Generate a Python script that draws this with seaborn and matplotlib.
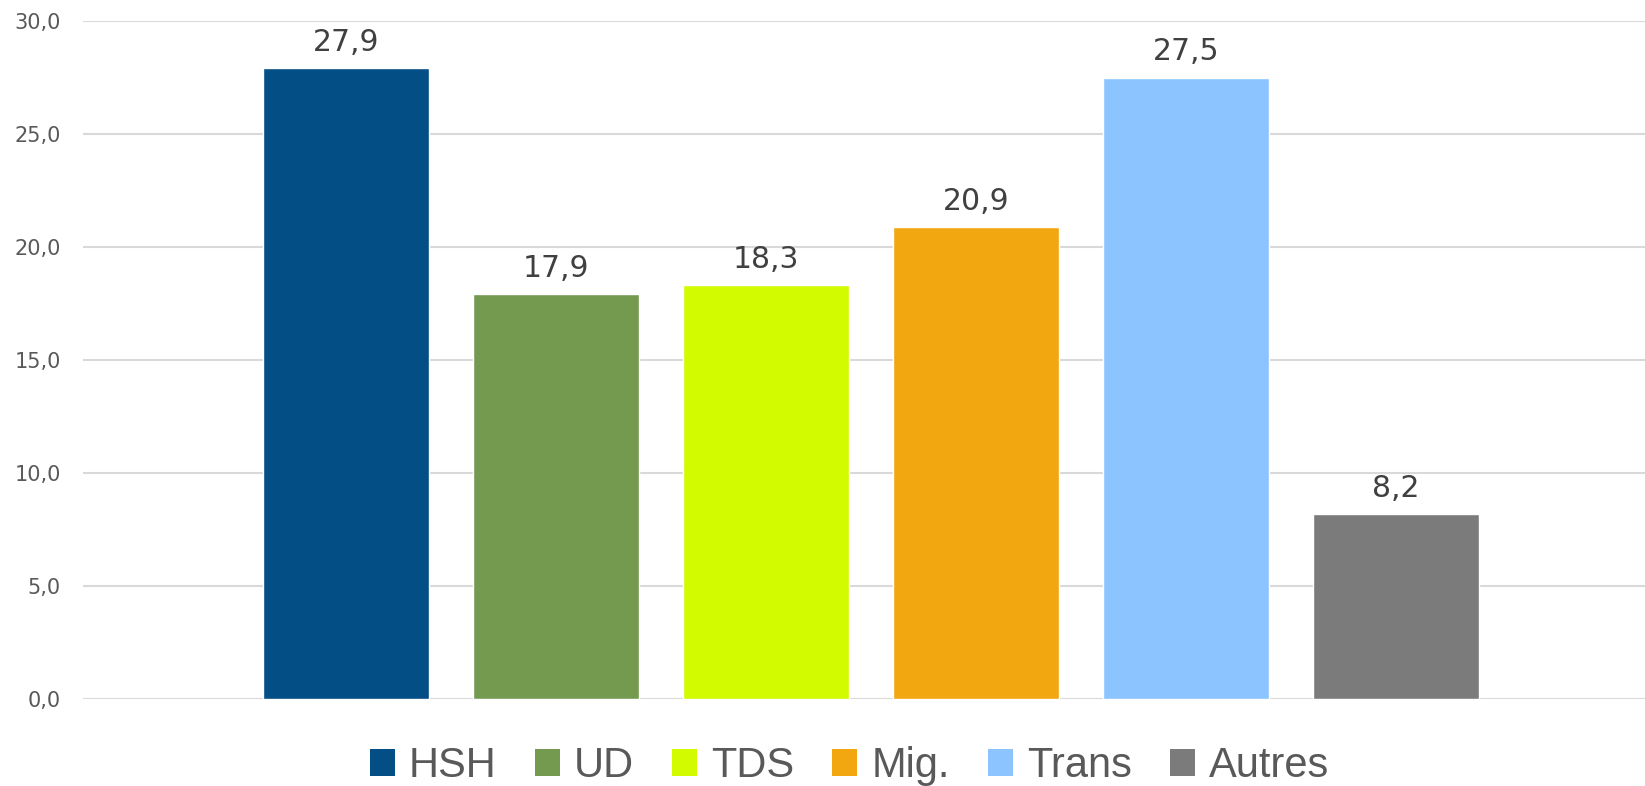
import matplotlib
matplotlib.use("Agg")
import matplotlib.pyplot as plt
from matplotlib.patches import Patch
import seaborn as sns

# data
categories = ["HSH", "UD", "TDS", "Mig.", "Trans", "Autres"]
values = [27.9, 17.9, 18.3, 20.9, 27.5, 8.2]
colors = ["#024e85", "#749a4f", "#d3fb00", "#f2a60f", "#8bc4fe", "#7b7b7b"]
yticks = [0, 5, 10, 15, 20, 25, 30]

sns.set_style("white")
plt.rcParams["font.family"] = ["DejaVu Sans"]

fig = plt.figure(figsize=(16.45, 7.86), dpi=100)
ax = fig.add_axes([83 / 1645, 87 / 786, 1562 / 1645, 678 / 786])

sns.barplot(x=categories, y=values, hue=categories, palette=colors,
            width=0.79, saturation=1, legend=False, ax=ax)

# value labels with french decimal comma
for cont, v in zip(ax.containers, values):
    ax.bar_label(cont, labels=[f"{v:.1f}".replace(".", ",")], padding=8,
                 fontsize=21.5, color="#404040")

ax.set_xlim(-1.252, 6.185)
ax.set_ylim(0, 30)
ax.set_yticks(yticks)
ax.set_yticklabels([f"{t:.1f}".replace(".", ",") for t in yticks],
                   fontsize=15, color="#595959")
ax.set_xticks([])
ax.set_xlabel("")
ax.set_ylabel("")
ax.tick_params(axis="y", length=0, pad=16)
ax.yaxis.grid(True, color="#d9d9d9", linewidth=1.5)
ax.set_axisbelow(True)
for s in ax.spines.values():
    s.set_visible(False)

handles = [Patch(facecolor=c, edgecolor="none", linewidth=0) for c in colors]
fig.legend(handles, categories, loc="center", bbox_to_anchor=(849.5 / 1645, 20 / 786),
           ncol=6, frameon=False, prop={"family": "Liberation Sans", "size": 30},
           labelcolor="#595959", handlelength=0.6, handleheight=0.6,
           handletextpad=0.34, columnspacing=0.91, borderpad=0, borderaxespad=0)

fig.savefig("out.png", dpi=100)
